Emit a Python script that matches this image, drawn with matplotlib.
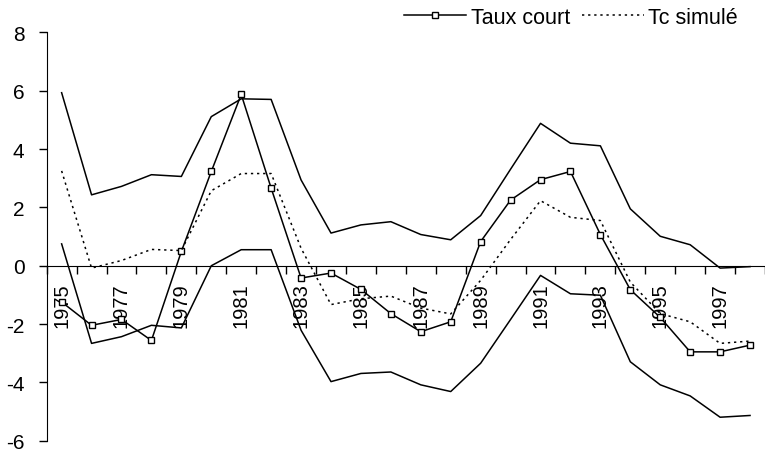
import matplotlib.pyplot as plt
import matplotlib

plt.rcParams['font.family'] = ['Liberation Sans', 'DejaVu Sans']
plt.rcParams['axes.unicode_minus'] = False

years = list(range(1975, 1999))
upper = [5.93, 2.43, 2.72, 3.12, 3.06, 5.11, 5.72, 5.70, 2.94, 1.12, 1.40, 1.51,
         1.07, 0.89, 1.72, 3.31, 4.88, 4.20, 4.11, 1.95, 1.01, 0.72, -0.08, -0.03]
lower = [0.75, -2.66, -2.43, -2.04, -2.13, 0.0, 0.55, 0.55, -2.21, -3.97, -3.69, -3.64,
         -4.08, -4.31, -3.34, -1.84, -0.33, -0.96, -1.01, -3.29, -4.08, -4.46, -5.19, -5.13]
taux_court = [-1.24, -2.04, -1.84, -2.56, 0.49, 3.23, 5.87, 2.66, -0.42, -0.25, -0.81, -1.64,
              -2.26, -1.92, 0.83, 2.25, 2.95, 3.23, 1.07, -0.82, -1.77, -2.95, -2.95, -2.72]
tc_simule = [3.25, -0.08, 0.18, 0.56, 0.52, 2.57, 3.16, 3.16, 0.6, -1.33, -1.13, -1.04,
             -1.45, -1.65, -0.5, 0.9, 2.23, 1.66, 1.55, -0.56, -1.64, -1.92, -2.66, -2.58]

x = list(range(len(years)))

fig = plt.figure(figsize=(7.65, 4.56), dpi=100)
ax = fig.add_axes([0.061, 0.031, 0.939, 0.896])

ax.plot(x, upper, color='black', lw=1.1)
ax.plot(x, lower, color='black', lw=1.1)
ax.plot(x, taux_court, color='black', lw=1.1, marker='s', ms=5,
        mfc='white', mec='black', mew=1.0, label='Taux court')
ax.plot(x, tc_simule, color='black', lw=1.1, linestyle=(0, (1.5, 2.5)), label='Tc simulé')

ax.set_xlim(-0.5, len(years) - 0.5)
ax.set_ylim(-6, 8)
ax.set_yticks(range(-6, 9, 2))
ax.tick_params(axis='y', direction='out', length=6, width=1, labelsize=15, pad=10)

ax.spines['top'].set_visible(False)
ax.spines['right'].set_visible(False)
ax.spines['bottom'].set_position(('data', 0))

ax.set_xticks([i for i in x if years[i] % 2 == 1])
ax.set_xticklabels([str(y) for y in years if y % 2 == 1], rotation=90, fontsize=14.5)
ax.set_xticks([i - 0.5 for i in range(len(years) + 1)], minor=True)
ax.tick_params(axis='x', which='major', length=0, pad=12)
ax.tick_params(axis='x', which='minor', direction='out', length=6, width=1)

fig.legend(loc='upper right', bbox_to_anchor=(0.99, 1.025), ncol=2, frameon=False,
           fontsize=15.5, handlelength=2.9, handletextpad=0.2, columnspacing=0.55)

fig.savefig('out.png', dpi=100)
